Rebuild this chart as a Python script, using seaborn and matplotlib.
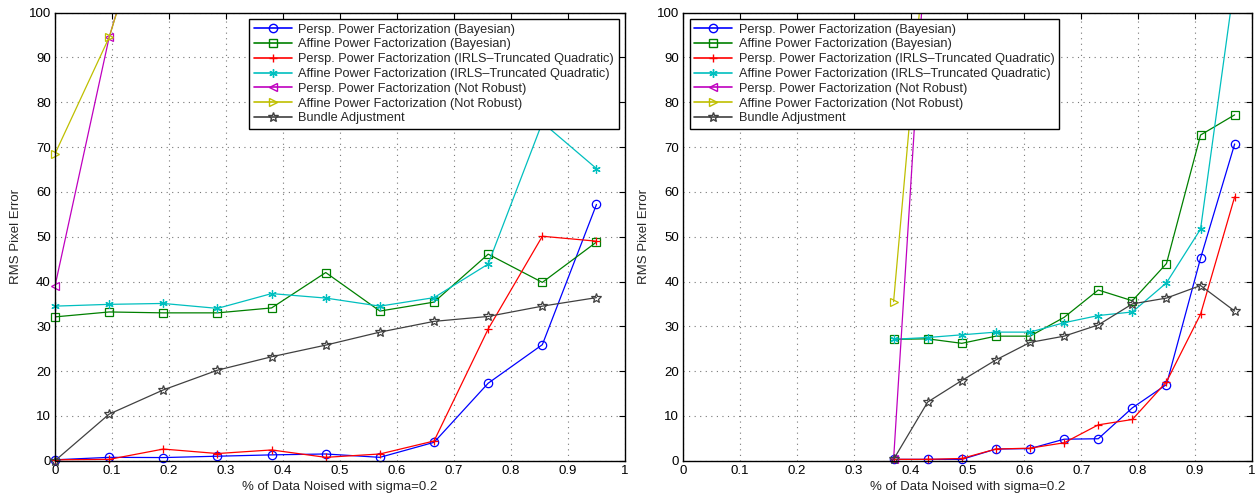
import numpy as np
import pandas as pd
import matplotlib
matplotlib.use("Agg")
import matplotlib.pyplot as plt
from matplotlib.lines import Line2D
import seaborn as sns

# ---- data ----
labels = [
    "Persp. Power Factorization (Bayesian)",
    "Affine Power Factorization (Bayesian)",
    "Persp. Power Factorization (IRLS\u2013Truncated Quadratic)",
    "Affine Power Factorization (IRLS\u2013Truncated Quadratic)",
    "Persp. Power Factorization (Not Robust)",
    "Affine Power Factorization (Not Robust)",
    "Bundle Adjustment",
]

# left panel
x_left = [0, 0.095, 0.19, 0.285, 0.38, 0.475, 0.57, 0.665, 0.76, 0.855, 0.95]
left_persp_bayes = [0.2, 0.75, 0.7, 1.0, 1.3, 1.5, 0.75, 4.1, 17.3, 25.9, 57.2]
left_affine_bayes = [32.1, 33.2, 33.0, 33.0, 34.1, 42.0, 33.4, 35.4, 46.1, 39.8, 48.8]
left_persp_irls = [0.2, 0.3, 2.6, 1.6, 2.4, 0.75, 1.5, 4.4, 29.4, 50.1, 49.0]
left_affine_irls = [34.5, 34.9, 35.1, 34.0, 37.3, 36.3, 34.5, 36.4, 43.9, 75.5, 65.2]
left_persp_nr = [39.0, 94.5, 135, 160, 180, 200, 215, 230, 245, 260, 275]
left_affine_nr = [68.5, 94.5, 134, 158, 178, 198, 214, 228, 243, 258, 272]
left_bundle = [0.0, 10.4, 15.8, 20.2, 23.2, 25.8, 28.7, 31.1, 32.2, 34.5, 36.4]

# right panel
x_right = [0.37, 0.43, 0.49, 0.55, 0.61, 0.67, 0.73, 0.79, 0.85, 0.91, 0.97]
right_persp_bayes = [0.3, 0.3, 0.3, 2.6, 2.7, 4.8, 4.9, 11.8, 17.0, 45.2, 70.7]
right_affine_bayes = [27.1, 27.2, 26.2, 27.8, 27.8, 32.0, 38.1, 35.7, 44.0, 72.7, 77.2]
right_persp_irls = [0.3, 0.3, 0.5, 2.6, 2.8, 4.0, 8.0, 9.2, 17.6, 32.7, 58.9]
right_affine_irls = [27.1, 27.5, 28.1, 28.7, 28.7, 30.8, 32.4, 33.2, 39.7, 51.7, 107.0]
right_persp_nr = [0.3, 122, 150, 170, 185, 200, 215, 230, 245, 260, 275]
right_affine_nr = [35.5, 121, 148, 168, 183, 198, 212, 228, 243, 258, 272]
right_bundle = [0.3, 13.1, 17.9, 22.5, 26.4, 27.8, 30.3, 35.0, 36.3, 39.1, 33.4]

colors = ["#0000ff", "#008000", "#ff0000", "#00bfbf", "#bf00bf", "#bfbf00", "#404040"]
markers = ["o", "s", "+", (6, 2, 0), "<", ">", "*"]


def build_frame(x, series):
    rows = []
    for lab, vals in zip(labels, series):
        for xv, yv in zip(x, vals):
            rows.append({"x": xv, "y": yv, "method": lab})
    return pd.DataFrame(rows)


left_df = build_frame(x_left, [left_persp_bayes, left_affine_bayes, left_persp_irls,
                               left_affine_irls, left_persp_nr, left_affine_nr, left_bundle])
right_df = build_frame(x_right, [right_persp_bayes, right_affine_bayes, right_persp_irls,
                                 right_affine_irls, right_persp_nr, right_affine_nr, right_bundle])

sns.set_style("white")
plt.rcParams["font.family"] = ["Liberation Sans", "DejaVu Sans"]

fig = plt.figure(figsize=(12.56, 5.0), dpi=100)
ax_l = fig.add_axes([0.0438, 0.0786, 0.4538, 0.8960])
ax_r = fig.add_axes([0.5440, 0.0786, 0.4526, 0.8960])


def draw_panel(ax, df, legend_loc):
    for lab, col, mk in zip(labels, colors, markers):
        sub = df[df["method"] == lab]
        # lines (clipped at the axes box)
        sns.lineplot(data=sub, x="x", y="y", color=col, linewidth=0.9,
                     estimator=None, ax=ax, legend=False)
        # markers only where visible, not clipped at the frame
        vis = sub[(sub["y"] <= 100) & (sub["y"] >= 0)]
        sns.lineplot(data=vis, x="x", y="y", color=col, linestyle="none",
                     marker=mk, markersize=7 if mk == "*" else 6,
                     markerfacecolor="none", markeredgecolor=col, markeredgewidth=0.9,
                     estimator=None, ax=ax, legend=False, clip_on=False)

    ax.set_xlim(0, 1)
    ax.set_ylim(0, 100)
    ax.set_xticks(np.arange(0, 1.01, 0.1))
    ax.set_xticklabels(["0", "0.1", "0.2", "0.3", "0.4", "0.5", "0.6", "0.7", "0.8", "0.9", "1"])
    ax.set_yticks(np.arange(0, 101, 10))
    ax.grid(True, linestyle=(0, (1, 4)), color="#777777", linewidth=0.8)
    ax.tick_params(direction="in", top=True, right=True, length=4, width=0.8,
                   labelsize=9.5, colors="black", pad=3)
    for sp in ax.spines.values():
        sp.set_color("black")
        sp.set_linewidth(1.0)
    ax.set_xlabel("% of Data Noised with sigma=0.2", fontsize=9.5, labelpad=3)
    ax.set_ylabel("RMS Pixel Error", fontsize=9.5, labelpad=5)

    handles = [Line2D([0], [0], color=c, marker=m, markersize=6 if m != "*" else 7,
                      markerfacecolor="none", markeredgecolor=c, linewidth=1.2)
               for c, m in zip(colors, markers)]
    leg = ax.legend(handles, labels, loc=legend_loc, fontsize=9.2, frameon=True,
                    fancybox=False, framealpha=1, edgecolor="black",
                    handlelength=3.0, labelspacing=0.22, borderpad=0.35,
                    handletextpad=0.5, borderaxespad=0.5)
    leg.get_frame().set_linewidth(1.0)


draw_panel(ax_l, left_df, "upper right")
draw_panel(ax_r, right_df, "upper left")

fig.savefig("out.png", dpi=100)
